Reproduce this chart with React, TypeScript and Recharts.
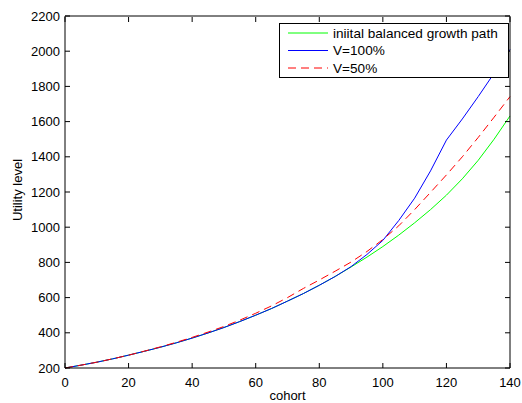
import React from "react";
import { LineChart, Line, XAxis, YAxis, Legend } from "recharts";

const COHORTS = [0, 5, 10, 15, 20, 25, 30, 35, 40, 45, 50, 55, 60, 65, 70, 75, 80, 85, 90, 95, 100, 105, 110, 115, 120, 125, 130, 135, 140];
const BALANCED = [200, 216, 233, 252, 273, 295, 318, 343, 370, 399, 430, 464, 500, 538, 580, 623, 670, 720, 774, 830, 890, 955, 1025, 1100, 1182, 1275, 1380, 1500, 1632];
const V100 = [200, 216, 233, 252, 273, 295, 318, 343, 370, 399, 430, 464, 500, 538, 580, 623, 670, 720, 776, 845, 925, 1038, 1165, 1320, 1495, 1615, 1742, 1875, 2010];
const V50 = [200, 216, 233, 252, 273, 296, 320, 346, 374, 404, 436, 472, 511, 553, 600, 652, 700, 750, 802, 862, 930, 1008, 1100, 1198, 1297, 1400, 1510, 1625, 1742];

const X_TICKS = [0, 20, 40, 60, 80, 100, 120, 140];
const Y_TICKS = [200, 400, 600, 800, 1000, 1200, 1400, 1600, 1800, 2000, 2200];

const SERIES = [
  { key: "balanced", name: "iniital balanced growth path", color: "#00ff00", dash: undefined, xId: "bottom", yId: "left" },
  { key: "v100", name: "V=100%", color: "#0000ff", dash: undefined, xId: "top", yId: "right" },
  { key: "v50", name: "V=50%", color: "#ff0000", dash: "8 5", xId: "bottom", yId: "left" },
];

const data = COHORTS.map((c, i) => ({
  cohort: c,
  balanced: BALANCED[i],
  v100: V100[i],
  v50: V50[i],
}));

const FONT = "'Liberation Sans', Arial, Helvetica, sans-serif";
const TICK_LEN = 5;

// MATLAB style: tick marks point into the plot box
const BottomTick = ({ x, y, payload }: any) => (
  <g>
    <line x1={x} x2={x} y1={y - 10} y2={y - 10 - TICK_LEN} stroke="#000" />
    <text x={x} y={y} dy="0.71em" textAnchor="middle" fontSize={13} fontFamily={FONT} fill="#000">
      {payload.value}
    </text>
  </g>
);

const LeftTick = ({ x, y, payload }: any) => (
  <g>
    <line x1={x + 5} x2={x + 5 + TICK_LEN} y1={y} y2={y} stroke="#000" />
    <text x={x} y={y} dy="0.355em" textAnchor="end" fontSize={13} fontFamily={FONT} fill="#000">
      {payload.value}
    </text>
  </g>
);

const TopTick = ({ x, y }: any) => (
  <line x1={x} x2={x} y1={y + 1} y2={y + 1 + TICK_LEN} stroke="#000" />
);

const RightTick = ({ x, y }: any) => (
  <line x1={x - TICK_LEN} x2={x} y1={y} y2={y} stroke="#000" />
);

function LegendBox() {
  return (
    <svg width={230} height={55} style={{ display: "block" }}>
      <rect x={0.5} y={0.5} width={229} height={54} fill="#fff" stroke="#000" />
      {SERIES.map((s, i) => (
        <g key={s.key}>
          <line
            x1={9}
            x2={49}
            y1={10 + i * 17.5}
            y2={10 + i * 17.5}
            stroke={s.color}
            strokeDasharray={s.dash}
          />
          <text x={54} y={14.5 + i * 17.5} fontSize={13.6} fontFamily={FONT} fill="#000">
            {s.name}
          </text>
        </g>
      ))}
    </svg>
  );
}

export default function App() {
  return (
    <div style={{ position: "absolute", left: 0, top: 0, background: "#fff" }}>
      <LineChart
        width={522}
        height={403}
        data={data}
        margin={{ top: 15, right: 11, left: 0, bottom: 0 }}
      >
        <XAxis
          xAxisId="bottom"
          dataKey="cohort"
          type="number"
          domain={[0, 140]}
          ticks={X_TICKS}
          height={35}
          tickSize={0}
          tickMargin={10}
          tickLine={false}
          tick={<BottomTick />}
          stroke="#000"
          label={{
            value: "cohort",
            position: "insideBottom",
            offset: 3,
            style: { fontSize: 13, fill: "#000", fontFamily: FONT },
          }}
        />
        <XAxis
          xAxisId="top"
          dataKey="cohort"
          type="number"
          orientation="top"
          domain={[0, 140]}
          ticks={X_TICKS}
          height={1}
          tickSize={0}
          tickMargin={0}
          tickLine={false}
          tick={<TopTick />}
          stroke="#000"
        />
        <YAxis
          yAxisId="left"
          type="number"
          domain={[200, 2200]}
          ticks={Y_TICKS}
          width={65}
          tickSize={0}
          tickMargin={5}
          tickLine={false}
          tick={<LeftTick />}
          stroke="#000"
          label={{
            content: ({ viewBox }: any) => {
              const cx = viewBox.x + 17;
              const cy = viewBox.y + viewBox.height / 2 - 2;
              return (
                <text
                  x={cx}
                  y={cy}
                  transform={`rotate(-90 ${cx} ${cy})`}
                  textAnchor="middle"
                  dominantBaseline="central"
                  fontSize={13}
                  fontFamily={FONT}
                  fill="#000"
                >
                  Utility level
                </text>
              );
            },
          }}
        />
        <YAxis
          yAxisId="right"
          type="number"
          orientation="right"
          domain={[200, 2200]}
          ticks={Y_TICKS}
          width={1}
          tickSize={0}
          tickMargin={0}
          tickLine={false}
          tick={<RightTick />}
          stroke="#000"
        />
        {SERIES.map((s) => (
          <Line
            key={s.key}
            xAxisId={s.xId}
            yAxisId={s.yId}
            dataKey={s.key}
            name={s.name}
            type="linear"
            stroke={s.color}
            strokeWidth={1}
            strokeDasharray={s.dash}
            dot={false}
            activeDot={false}
            isAnimationActive={false}
          />
        ))}
        <Legend
          layout="vertical"
          align="center"
          verticalAlign="middle"
          content={() => <LegendBox />}
          wrapperStyle={{ position: "absolute", left: 279, top: 23, width: 230, height: 55 }}
        />
      </LineChart>
    </div>
  );
}
